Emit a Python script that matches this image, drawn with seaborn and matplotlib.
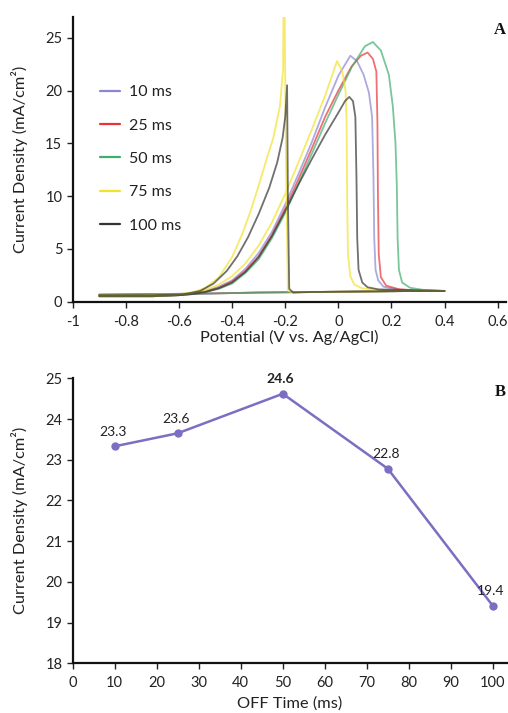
import matplotlib
matplotlib.use("Agg")
import matplotlib.pyplot as plt
import seaborn as sns
import pandas as pd
from matplotlib.lines import Line2D

# ---------------- data ----------------
series_labels = ["10 ms", "25 ms", "50 ms", "75 ms", "100 ms"]
series_colors = ["#8a86cf", "#e8333a", "#3fae6e", "#f2e229", "#333333"]

# Panel A: cyclic voltammograms (forward scan followed by reverse scan)
E_10 = [-0.9, -0.8, -0.7, -0.6, -0.55, -0.5, -0.45, -0.4, -0.35, -0.3, -0.25, -0.2, -0.15, -0.1, -0.05, 0.0, 0.045,
        0.07, 0.095, 0.115, 0.127, 0.132, 0.135, 0.14, 0.15, 0.17, 0.22, 0.3, 0.4,
        0.3, 0.1, -0.1, -0.3, -0.5, -0.7, -0.9]
J_10 = [0.5, 0.5, 0.5, 0.6, 0.75, 1.0, 1.4, 2.0, 3.1, 4.6, 6.6, 9.2, 12.1, 15.1, 18.4, 21.4, 23.3,
        22.8, 21.5, 19.8, 17.5, 12.0, 6.0, 3.0, 2.0, 1.4, 1.15, 1.05, 1.0,
        1.0, 0.95, 0.9, 0.85, 0.75, 0.7, 0.65]

E_25 = [-0.9, -0.8, -0.7, -0.6, -0.55, -0.5, -0.45, -0.4, -0.35, -0.3, -0.25, -0.2, -0.15, -0.1, -0.05, 0.0, 0.05,
        0.085, 0.11, 0.13, 0.143, 0.147, 0.149, 0.152, 0.16, 0.18, 0.23, 0.3, 0.4,
        0.3, 0.1, -0.1, -0.3, -0.5, -0.7, -0.9]
J_25 = [0.5, 0.5, 0.5, 0.6, 0.72, 0.95, 1.3, 1.9, 2.9, 4.3, 6.3, 8.8, 11.6, 14.5, 17.5, 20.0, 22.3,
        23.3, 23.6, 23.0, 21.8, 17.0, 10.0, 4.5, 2.3, 1.5, 1.15, 1.05, 1.0,
        1.0, 0.95, 0.9, 0.85, 0.75, 0.7, 0.65]

E_50 = [-0.9, -0.8, -0.7, -0.6, -0.55, -0.5, -0.45, -0.4, -0.35, -0.3, -0.25, -0.2, -0.15, -0.1, -0.05, 0.0, 0.05,
        0.1, 0.13, 0.16, 0.19, 0.205, 0.215, 0.22, 0.223, 0.228, 0.24, 0.27, 0.32, 0.4,
        0.3, 0.1, -0.1, -0.3, -0.5, -0.7, -0.9]
J_50 = [0.5, 0.5, 0.5, 0.6, 0.7, 0.9, 1.2, 1.7, 2.7, 4.0, 6.0, 8.4, 11.2, 14.0, 16.9, 19.6, 22.2,
        24.2, 24.6, 23.8, 21.5, 18.5, 15.0, 11.0, 6.0, 3.0, 1.8, 1.3, 1.1, 1.0,
        1.0, 0.95, 0.9, 0.85, 0.75, 0.7, 0.65]

E_75 = [-0.9, -0.8, -0.7, -0.6, -0.55, -0.5, -0.45, -0.4, -0.35, -0.3, -0.25, -0.2, -0.15, -0.1, -0.05, -0.005,
        0.015, 0.027, 0.031, 0.033, 0.036, 0.045, 0.06, 0.09, 0.15, 0.4,
        0.3, 0.1, -0.1, -0.17, -0.19, -0.198, -0.203, -0.206, -0.208, -0.22, -0.245, -0.27, -0.3, -0.33,
        -0.36, -0.4, -0.45, -0.5, -0.55, -0.6, -0.75, -0.9]
J_75 = [0.5, 0.5, 0.5, 0.65, 0.8, 1.1, 1.6, 2.4, 3.6, 5.3, 7.5, 10.2, 13.2, 16.3, 19.5, 22.8,
        21.8, 20.0, 17.0, 10.0, 4.5, 2.4, 1.6, 1.25, 1.1, 1.0,
        1.0, 0.95, 0.9, 0.85, 1.0, 15.0, 30.0, 30.0, 22.0, 18.5, 15.5, 13.5, 11.0, 8.6,
        6.5, 4.2, 2.3, 1.3, 0.85, 0.7, 0.6, 0.6]

E_100 = [-0.9, -0.8, -0.7, -0.6, -0.55, -0.5, -0.45, -0.4, -0.35, -0.3, -0.25, -0.2, -0.15, -0.1, -0.05, 0.0,
         0.025, 0.041, 0.055, 0.064, 0.068, 0.071, 0.076, 0.09, 0.11, 0.15, 0.4,
         0.3, 0.1, -0.1, -0.17, -0.185, -0.19, -0.193, -0.2, -0.21, -0.23, -0.26, -0.3, -0.34, -0.38,
         -0.42, -0.47, -0.52, -0.58, -0.7, -0.9]
J_100 = [0.5, 0.5, 0.5, 0.6, 0.7, 0.9, 1.25, 1.8, 2.8, 4.2, 6.2, 8.6, 11.1, 13.5, 15.8, 17.9,
         19.0, 19.4, 19.0, 17.5, 12.0, 6.0, 3.0, 1.8, 1.35, 1.15, 1.0,
         1.0, 0.95, 0.9, 0.85, 1.2, 10.0, 20.5, 17.5, 15.5, 13.2, 10.8, 8.3, 6.1, 4.3,
         2.9, 1.7, 1.0, 0.7, 0.6, 0.6]

# Panel B: peak current density vs OFF time
off_time = [10, 25, 50, 75, 100]
peak_current = [23.33, 23.65, 24.62, 22.78, 19.41]
peak_labels = ["23.3", "23.6", "24.6", "22.8", "19.4"]

x_ticks_A = [-1, -0.8, -0.6, -0.4, -0.2, 0, 0.2, 0.4, 0.6]
x_ticklabels_A = ["-1", "-0.8", "-0.6", "-0.4", "-0.2", "0", "0.2", "0.4", "0.6"]
y_ticks_A = [0, 5, 10, 15, 20, 25]
x_ticks_B = [0, 10, 20, 30, 40, 50, 60, 70, 80, 90, 100]
y_ticks_B = [18, 19, 20, 21, 22, 23, 24, 25]

# ---------------- build frames ----------------
curves = [(E_10, J_10), (E_25, J_25), (E_50, J_50), (E_75, J_75), (E_100, J_100)]
rows = []
for lab, (E, J) in zip(series_labels, curves):
    for i, (e, j) in enumerate(zip(E, J)):
        rows.append({"series": lab, "E": e, "J": j, "idx": i})
df_cv = pd.DataFrame(rows)
df_b = pd.DataFrame({"off": off_time, "J": peak_current})

# ---------------- style ----------------
sns.set_theme(style="ticks")
plt.rcParams["font.family"] = ["Lato", "DejaVu Sans"]
plt.rcParams["text.color"] = "#222222"
plt.rcParams["axes.labelcolor"] = "#222222"
plt.rcParams["xtick.color"] = "#222222"
plt.rcParams["ytick.color"] = "#222222"

W, H = 508, 713
fig = plt.figure(figsize=(W / 100, H / 100), dpi=100)

def fx(px):
    return px / W

def fy(py):
    return 1 - py / H

axA = fig.add_axes([fx(72.7), fy(301.5), fx(506 - 72.7), (301.5 - 16.7) / H])
axB = fig.add_axes([fx(72.7), fy(663.3), fx(506.7 - 72.7), (663.3 - 378.3) / H])

palette = dict(zip(series_labels, series_colors))
sns.lineplot(data=df_cv, x="E", y="J", hue="series", units="series", estimator=None, sort=False,
             palette=palette, linewidth=1.3, alpha=0.7, ax=axA, legend=False)

axA.set_xlim(-1, 0.631)
axA.set_ylim(0, 27)
axA.set_xticks(x_ticks_A)
axA.set_xticklabels(x_ticklabels_A)
axA.set_yticks(y_ticks_A)
axA.set_xlabel("Potential (V vs. Ag/AgCl)", fontsize=11.8, labelpad=1)
axA.set_ylabel("Current Density (mA/cm²)", fontsize=11.8, labelpad=12)

handles = [Line2D([0], [0], color=c, lw=1.6) for c in series_colors]
axA.legend(handles, series_labels, loc="upper left", bbox_to_anchor=(0.064, 0.76), frameon=False,
           fontsize=11.5, handlelength=1.25, handletextpad=0.55, labelspacing=1.2, borderpad=0,
           borderaxespad=0)

sns.lineplot(data=df_b, x="off", y="J", color="#7a6fc0", linewidth=1.8, marker="o", markersize=6,
             markeredgewidth=0, ax=axB)
for x, y, lab in zip(off_time, peak_current, peak_labels):
    axB.annotate(lab, (x, y), xytext=(-1.5, 10.5), textcoords="offset points", ha="center", va="center",
                 fontsize=10, fontweight="bold" if lab == "24.6" else "normal", annotation_clip=False)
axB.set_xlim(0, 103.3)
axB.set_ylim(18, 25)
axB.set_xticks(x_ticks_B)
axB.set_yticks(y_ticks_B)
axB.set_xlabel("OFF Time (ms)", fontsize=11.8, labelpad=4)
axB.set_ylabel("Current Density (mA/cm²)", fontsize=11.8, labelpad=12)

for ax in (axA, axB):
    for s in ("top", "right"):
        ax.spines[s].set_visible(False)
    for s in ("left", "bottom"):
        ax.spines[s].set_linewidth(1.6)
        ax.spines[s].set_color("#111111")
    ax.tick_params(axis="both", direction="out", length=4.5, width=1, labelsize=10.5, pad=3)
    ax.tick_params(axis="x", pad=5)

fig.text(fx(500), fy(30), "A", fontsize=12, fontweight="bold", family="Liberation Serif",
         ha="center", va="center", color="#111111")
fig.text(fx(500), fy(392), "B", fontsize=12, fontweight="bold", family="Liberation Serif",
         ha="center", va="center", color="#111111")

fig.savefig("out.png", dpi=100)
